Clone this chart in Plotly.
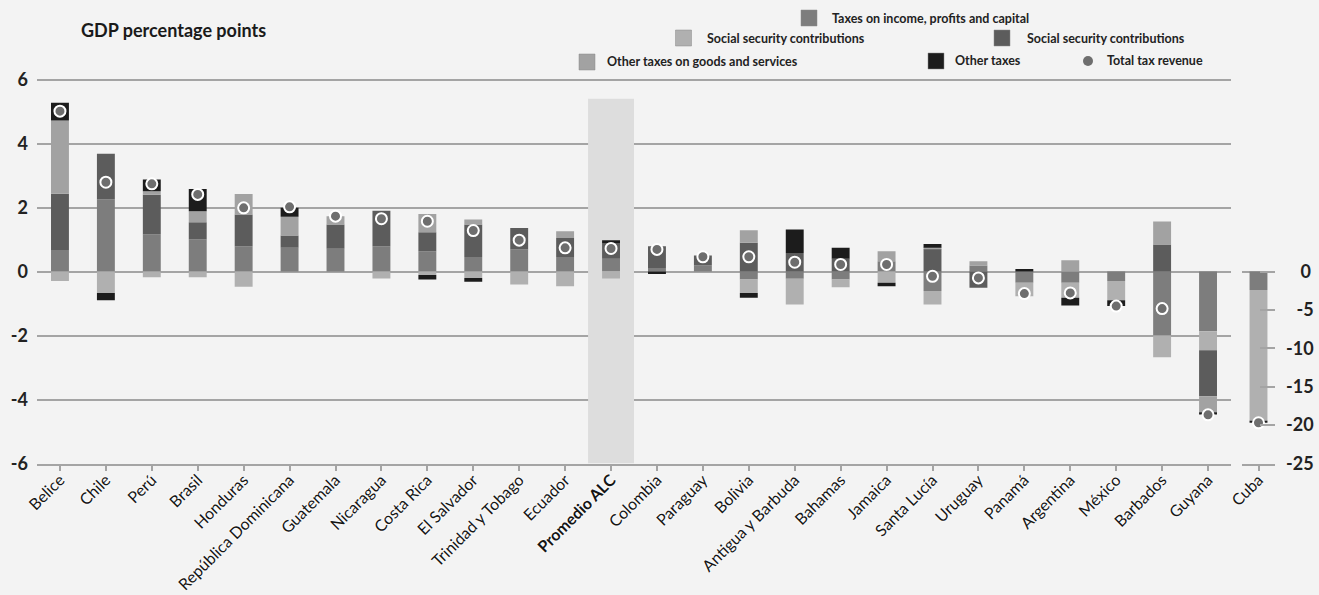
import plotly.graph_objects as go

W, H = 1319, 595

# ---- data (GDP percentage points) ----
countries = ["Belice", "Chile", "Perú", "Brasil", "Honduras", "República Dominicana",
             "Guatemala", "Nicaragua", "Costa Rica", "El Salvador", "Trinidad y Tobago",
             "Ecuador", "Promedio ALC", "Colombia", "Paraguay", "Bolivia",
             "Antigua y Barbuda", "Bahamas", "Jamaica", "Santa Lucía", "Uruguay",
             "Panamá", "Argentina", "México", "Barbados", "Guyana"]

income = [0.67, 2.25, 1.16, 1.00, 0.79, 0.74, 0.71, 0.79, 0.63, 0.45, 0.69, 0.45, 0.40,
          0.11, 0.19, -0.25, -0.23, -0.25, 0.32, -0.61, 0.19, -0.35, -0.35, -0.30, -2.00, -1.87]
ssc_light = [-0.30, -0.67, -0.18, -0.18, -0.48, 0, 0, -0.22, -0.11, -0.20, -0.41, -0.46, -0.22,
             0, 0, -0.42, -0.80, -0.24, -0.35, -0.42, 0, -0.42, -0.47, -0.60, -0.68, -0.59]
ssc_dark = [1.76, 1.43, 1.24, 0.54, 0.99, 0.385, 0.76, 1.11, 0.60, 1.02, 0.67, 0.60, 0.475,
            0.68, 0.31, 0.90, 0.58, 0.40, 0, 0.70, -0.51, 0, 0, 0, 0.84, -1.44]
other_goods = [2.29, 0, 0.11, 0.34, 0.64, 0.585, 0.26, 0, 0.57, 0.155, 0, 0.21, 0,
               0, 0, 0.39, 0, 0, 0.31, 0.04, 0.13, 0, 0.35, 0, 0.72, -0.50]
other_taxes = [0.55, -0.23, 0.365, 0.70, 0, 0.28, 0, 0, -0.14, -0.12, 0, 0, 0.105,
               -0.08, 0, -0.15, 0.73, 0.34, -0.11, 0.12, 0, 0.08, -0.24, -0.18, 0, -0.07]
total = [5.01, 2.79, 2.74, 2.41, 1.99, 2.02, 1.73, 1.65, 1.57, 1.28, 0.98, 0.74, 0.72,
         0.69, 0.46, 0.46, 0.29, 0.22, 0.22, -0.15, -0.20, -0.69, -0.67, -1.08, -1.16, -4.48]

# Cuba is drawn on its own scale
cuba = ["Cuba"]
cuba_income = [-2.4]
cuba_ssc_light = [-17.1]
cuba_ssc_dark = [0]
cuba_other_goods = [0]
cuba_other_taxes = [-0.2]
cuba_total = [-19.7]

y_ticks = [6, 4, 2, 0, -2, -4, -6]
y_ticklabels = ["6", "4", "2", "0", "-2", "-4", "-6"]
cuba_ticks = [0, -5, -10, -15, -20, -25]
cuba_ticklabels = ["\u2007\u20080", "\u2007-5", "-10", "-15", "-20", "-25"]

series_names = ["Taxes on income, profits and capital", "Social security contributions",
                "Social security contributions", "Other taxes on goods and services",
                "Other taxes"]
series_colors = ["#7d7d7d", "#b0b0b0", "#5c5c5c", "#a2a2a2", "#1c1c1c"]
dot_color = "#6e6e6e"

FONT = "Lato, 'Open Sans', sans-serif"
BG = "#f3f3f3"
GRID = "#a4a4a4"


def px_x(p):
    return p / W


def px_y(p):
    return 1 - p / H


fig = go.Figure()

main_series = [income, ssc_light, ssc_dark, other_goods, other_taxes]
cuba_series = [cuba_income, cuba_ssc_light, cuba_ssc_dark, cuba_other_goods, cuba_other_taxes]

for name, color, vals in zip(series_names, series_colors, main_series):
    fig.add_trace(go.Bar(x=countries, y=vals, name=name, marker_color=color,
                         marker_line_width=0, width=0.39, showlegend=False,
                         xaxis="x", yaxis="y"))
for name, color, vals in zip(series_names, series_colors, cuba_series):
    fig.add_trace(go.Bar(x=cuba, y=vals, name=name, marker_color=color,
                         marker_line_width=0, width=0.39, showlegend=False,
                         xaxis="x2", yaxis="y2"))

dot_marker = dict(size=11, color=dot_color, line=dict(color="white", width=2))
fig.add_trace(go.Scatter(x=countries, y=total, mode="markers", marker=dot_marker,
                         name="Total tax revenue", showlegend=False, xaxis="x", yaxis="y"))
fig.add_trace(go.Scatter(x=cuba, y=cuba_total, mode="markers", marker=dot_marker,
                         name="Total tax revenue", showlegend=False, xaxis="x2", yaxis="y2"))

# plot geometry (pixels)
main_left, main_right = 37, 1231
cuba_left, cuba_right = 1242, 1275
plot_bottom = 463.5
unit = 32.0                      # pixels per GDP point on the main axis
main_top = plot_bottom - 12.1 * unit
cuba_top = plot_bottom - 25.5 * (6 * unit) / 25.0

ticktext = ["<b>Promedio ALC</b>" if c == "Promedio ALC" else c for c in countries]
halo = "0 0 3px #ffffff, 0 0 2px #ffffff"
cat_font = dict(size=16, color="#151515", shadow=halo)
num_font = dict(size=18, color="#222222", weight="bold")

fig.update_layout(
    template="none",
    width=W, height=H,
    margin=dict(l=0, r=0, t=0, b=0, pad=0),
    paper_bgcolor=BG, plot_bgcolor=BG,
    barmode="relative",
    font=dict(family=FONT, color="#222222"),
    xaxis=dict(domain=[px_x(main_left), px_x(main_right)], range=[-0.5, 25.5],
               type="category", categoryorder="array", categoryarray=countries,
               tickmode="array", tickvals=countries, ticktext=ticktext,
               tickangle=-45, tickfont=cat_font, ticklabelstandoff=-6,
               showline=True, linecolor=GRID, linewidth=2,
               ticks="outside", ticklen=5, tickcolor=GRID, tickwidth=1.5,
               showgrid=False, zeroline=False, anchor="y", automargin=False),
    yaxis=dict(domain=[px_y(plot_bottom), px_y(main_top)], range=[-6, 6.1],
               tickmode="array", tickvals=y_ticks, ticktext=y_ticklabels,
               tickfont=num_font, ticklabelstandoff=8,
               showgrid=True, gridcolor=GRID, gridwidth=2,
               zeroline=True, zerolinecolor=GRID, zerolinewidth=2,
               showline=False, ticks="", anchor="x", automargin=False),
    xaxis2=dict(domain=[px_x(cuba_left), px_x(cuba_right)], range=[-0.36, 0.36],
                type="category", tickangle=-45, tickfont=cat_font, ticklabelstandoff=-6,
                showline=True, linecolor=GRID, linewidth=2,
                ticks="outside", ticklen=5, tickcolor=GRID, tickwidth=1.5,
                showgrid=False, zeroline=False, anchor="y2", automargin=False),
    yaxis2=dict(domain=[px_y(plot_bottom), px_y(cuba_top)], range=[-25, 0.5],
                side="right", anchor="x2", tickmode="array", tickvals=cuba_ticks,
                ticktext=cuba_ticklabels, tickfont=num_font, ticklabelstandoff=10,
                ticks="inside", ticklen=15, tickcolor=GRID, tickwidth=2,
                showgrid=False, zeroline=True, zerolinecolor=GRID, zerolinewidth=2,
                showline=False, automargin=False),
)

# highlight behind the regional average
fig.add_shape(type="rect", xref="x", yref="y", x0=11.5, x1=12.5, y0=-6, y1=5.4,
              fillcolor="#dddddd", line_width=0, layer="between")

# chart title
fig.add_annotation(x=px_x(79), y=px_y(30), xref="paper", yref="paper",
                   text="<b>GDP percentage points</b>", showarrow=False,
                   xanchor="left", yanchor="middle",
                   font=dict(size=18, color="#1a1a1a", family=FONT))

# legend entries: (swatch centre x, centre y, text x, series index)
legend_items = [
    (809, 18, 830, 0),
    (683.5, 38, 705, 1),
    (1002, 38, 1025, 2),
    (587, 62, 605, 3),
    (936, 61, 953, 4),
]
for cx, cy, tx, k in legend_items:
    fig.add_shape(type="rect", xref="paper", yref="paper",
                  x0=px_x(cx - 8), x1=px_x(cx + 8), y0=px_y(cy + 8), y1=px_y(cy - 8),
                  fillcolor=series_colors[k], line=dict(color="#8a8a8a", width=0.5))
    fig.add_annotation(x=px_x(tx), y=px_y(cy), xref="paper", yref="paper",
                       text="<b>" + series_names[k] + "</b>", showarrow=False,
                       xanchor="left", yanchor="middle",
                       font=dict(size=12.5, color="#222222", family=FONT))

fig.add_shape(type="circle", xref="paper", yref="paper",
              x0=px_x(1083), x1=px_x(1093), y0=px_y(66), y1=px_y(56),
              fillcolor=dot_color, line_width=0)
fig.add_annotation(x=px_x(1105), y=px_y(61), xref="paper", yref="paper",
                   text="<b>Total tax revenue</b>", showarrow=False,
                   xanchor="left", yanchor="middle",
                   font=dict(size=12.5, color="#222222", family=FONT))

fig.write_html("out.html")
